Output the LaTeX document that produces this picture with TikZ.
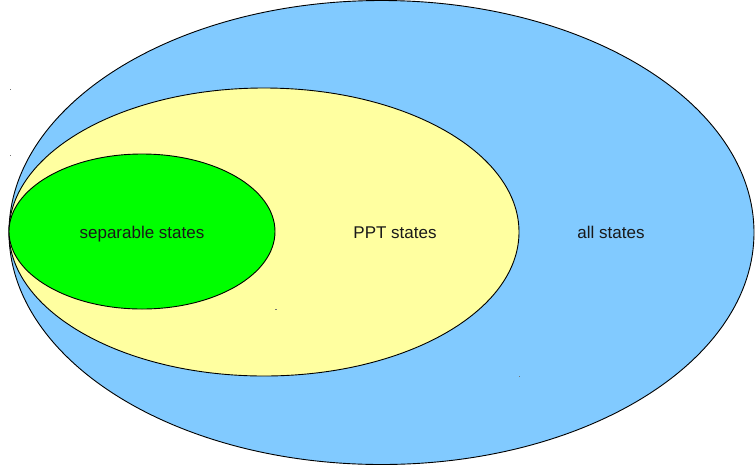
\documentclass[tikz,border=0pt]{standalone}
\usepackage{fontspec}
\setmainfont{Liberation Sans}
\begin{document}
\begin{tikzpicture}[x=1pt,y=-1pt,
  region/.style={draw=black, line width=0.9pt},
  lbl/.style={font=\fontsize{17}{20}\selectfont, text=black!90, inner sep=0pt, anchor=base},
  speck/.style={fill=black!55}]
\useasboundingbox (0,0) rectangle (755,467);
% nested sets of states
\path[region, fill={rgb,255:red,129;green,202;blue,255}] (381.5,232.5) ellipse [x radius=372.5, y radius=232];
\path[region, fill={rgb,255:red,255;green,255;blue,160}] (264,232) ellipse [x radius=255, y radius=144];
\path[region, fill={rgb,255:red,0;green,255;blue,0}] (142,231.5) ellipse [x radius=133, y radius=77.5];
% labels, sharing one baseline
\node[lbl] (sep) at (142,238) {separable states};
\node[lbl] (ppt) at (395,238) {PPT states};
\node[lbl] (all) at (611,238) {all states};
% small marks at the corners of the inner frames
\fill[speck] (9.5,88.5) rectangle ++(1.2,1.2);
\fill[speck] (9.5,154.5) rectangle ++(1.2,1.2);
\fill[speck] (274.5,309) rectangle ++(2,1);
\fill[speck] (518.5,375.5) rectangle ++(1.2,1.5);
\end{tikzpicture}
\end{document}
